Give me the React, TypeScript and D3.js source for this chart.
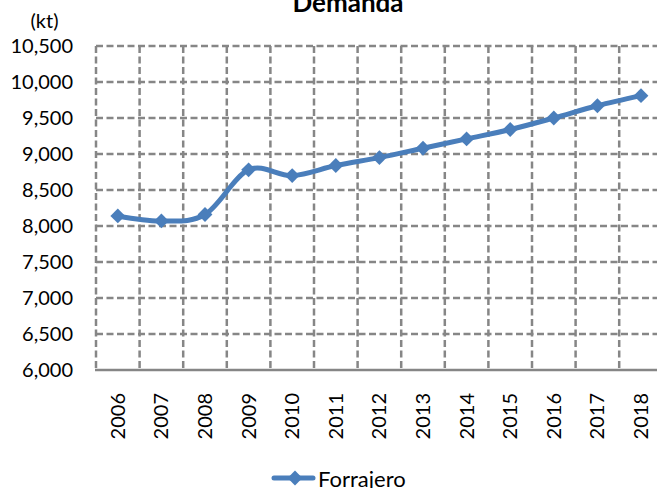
import React from 'react';
import * as d3 from 'd3';

// values (kt)
const years = ['2006', '2007', '2008', '2009', '2010', '2011', '2012', '2013', '2014', '2015', '2016', '2017', '2018'];
const forrajero = [8140, 8070, 8160, 8780, 8700, 8840, 8950, 9080, 9210, 9340, 9500, 9670, 9810];
const yTicks = [6000, 6500, 7000, 7500, 8000, 8500, 9000, 9500, 10000, 10500];

const W = 657;
const H = 488;
const left = 96;
const top = 46;
const bottom = 370;
const step = 43.6;
const right = left + step * years.length;

const FONT = 'Lato, "Open Sans", sans-serif';
const BLUE = '#4a7ebb';
const GRID = '#868686';

const App = () => {
  const x = d3.scaleBand().domain(years).range([left, right]).padding(0);
  const y = d3.scaleLinear().domain([6000, 10500]).range([bottom, top]);
  const fmt = d3.format(',');

  const line = d3.line<number>()
    .x((d, i) => x(years[i])! + x.bandwidth() / 2)
    .y(d => y(d))
    .curve(d3.curveCardinal.tension(0));

  const diamond = d3.symbol().type(d3.symbolDiamond2).size(140)();

  return (
    <svg width={W} height={H} style={{ position: 'absolute', left: 0, top: 0, display: 'block' }}
      fontFamily={FONT}>
      <rect width={W} height={H} fill="#fff" />

      <text x={348} y={12} textAnchor="middle" fontSize={26} fontWeight="bold" fill="#000">Demanda</text>
      <text x={44.5} y={28} textAnchor="middle" fontSize={20} fill="#000">(kt)</text>

      {/* horizontal gridlines */}
      {yTicks.filter(t => t > 6000).map(t => (
        <line key={t} x1={left} x2={right} y1={y(t)} y2={y(t)}
          stroke={GRID} strokeWidth={2.5} strokeDasharray="7,3.5" />
      ))}
      {/* vertical gridlines at category edges */}
      {years.map(yr => (
        <line key={yr} x1={x(yr)!} x2={x(yr)!} y1={top} y2={bottom}
          stroke={GRID} strokeWidth={2.5} strokeDasharray="7,3.5" />
      ))}
      <line x1={right} x2={right} y1={top} y2={bottom} stroke={GRID} strokeWidth={2.5} strokeDasharray="7,3.5" />
      <line x1={left - 1} x2={right} y1={bottom} y2={bottom} stroke={GRID} strokeWidth={2.5} />

      {yTicks.map(t => (
        <text key={t} x={73} y={y(t)} dy="0.36em" textAnchor="end" fontSize={20} fill="#000">{fmt(t)}</text>
      ))}
      {years.map(yr => {
        const cx = x(yr)! + x.bandwidth() / 2;
        return (
          <text key={yr} transform={`translate(${cx + 7},393) rotate(-90)`} textAnchor="end"
            fontSize={20} fill="#000">{yr}</text>
        );
      })}

      <path d={line(forrajero) || ''} fill="none" stroke={BLUE} strokeWidth={5} strokeLinejoin="round" />
      {forrajero.map((v, i) => (
        <path key={i} d={diamond || ''} fill={BLUE}
          transform={`translate(${x(years[i])! + x.bandwidth() / 2},${y(v)})`} />
      ))}

      {/* legend */}
      <line x1={274} x2={313} y1={478} y2={478} stroke={BLUE} strokeWidth={5} strokeLinecap="round" />
      <path d={diamond || ''} fill={BLUE} transform="translate(295,478)" />
      <text x={318} y={487} fontSize={22} fill="#000">Forrajero</text>
    </svg>
  );
};

export default App;
